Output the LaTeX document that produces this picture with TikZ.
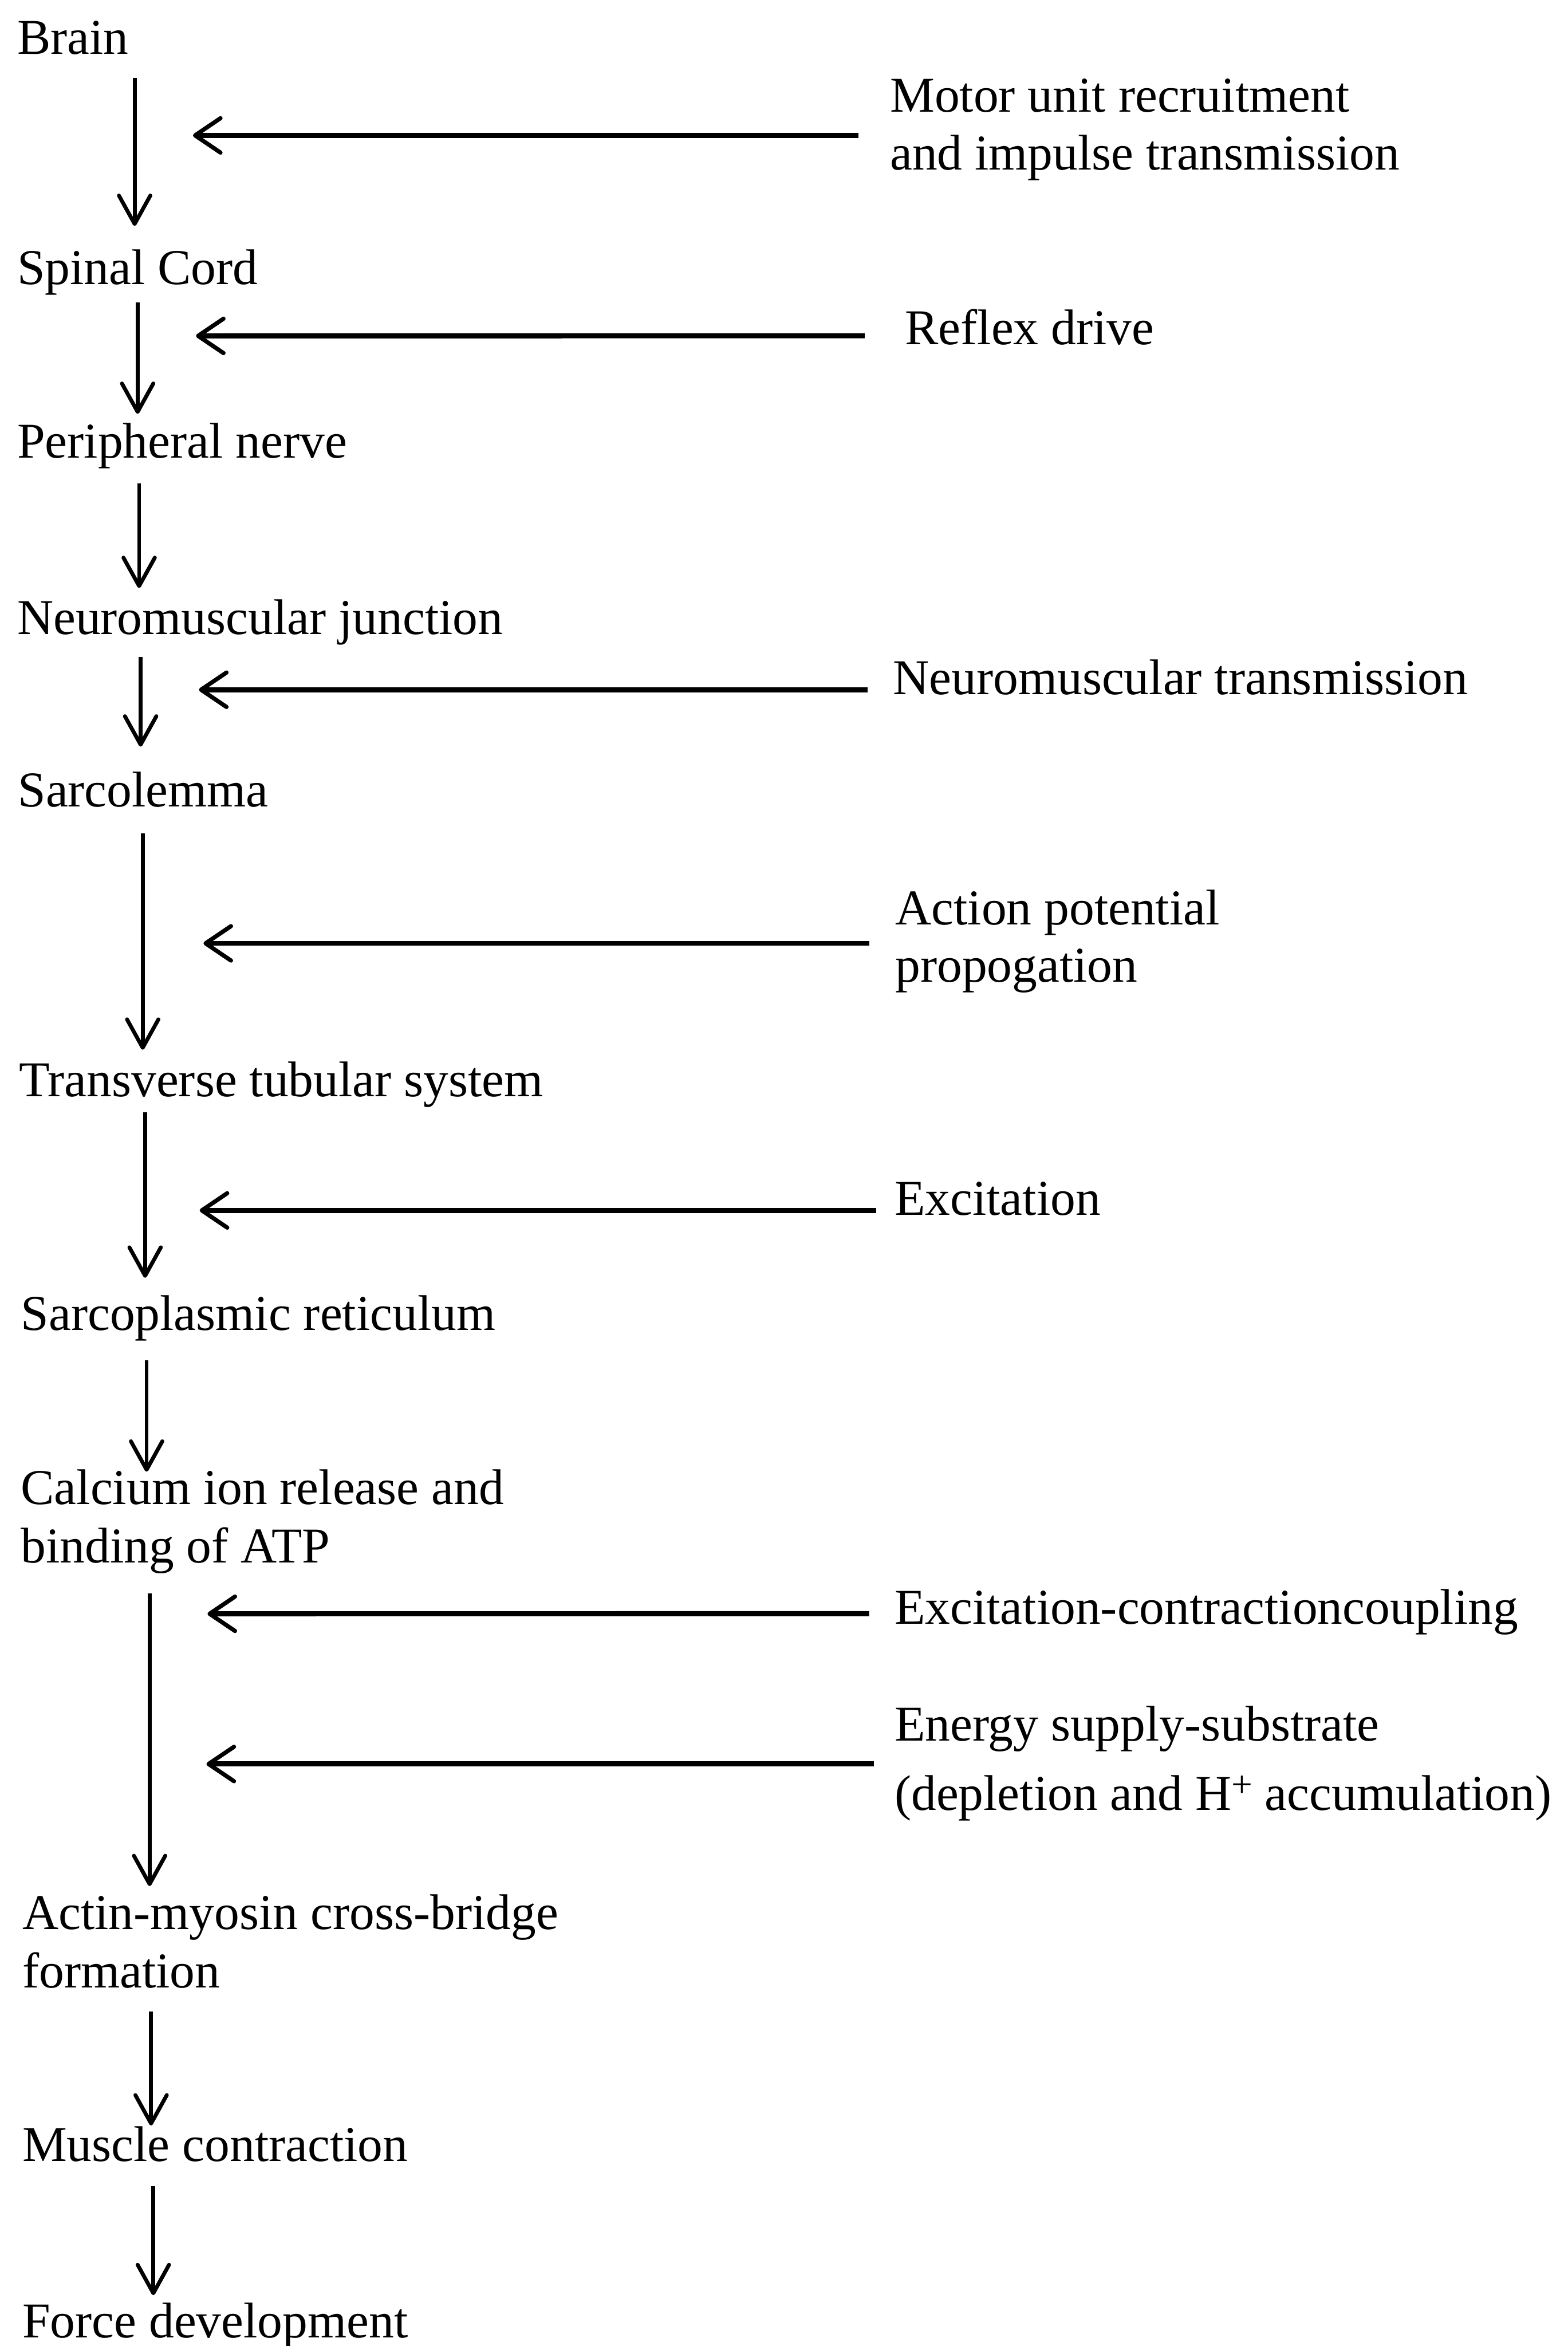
\documentclass[tikz,border=0pt]{standalone}
\usepackage{fontspec}
\setmainfont{Liberation Serif}
\usetikzlibrary{arrows.meta,calc}
\newcommand{\hplus}{\raisebox{9pt}{\fontsize{25}{25}\selectfont +}}
\begin{document}
\begin{tikzpicture}[x=1pt,y=-1pt,
  lbl/.style={anchor=base west,inner sep=0pt,outer sep=0pt,font=\fontsize{33.5}{38.5}\selectfont},
  varrow/.style={line width=2.6pt,-{Straight Barb[length=19pt,width=21pt,line width=2.6pt,round]}},
  harrow/.style={line width=3.4pt,-{Straight Barb[length=17pt,width=23pt,line width=2.8pt,round]}}]
\useasboundingbox (0,0) rectangle (1048,1568);
% left chain
\node[lbl] (brain)   at (11.5,36)    {Brain};
\node[lbl] (spinal)  at (11.5,190)   {Spinal Cord};
\node[lbl] (periph)  at (11.5,306)   {Peripheral nerve};
\node[lbl] (nmj)     at (11.5,424)   {Neuromuscular junction};
\node[lbl] (sarcol)  at (12,539)     {Sarcolemma};
\node[lbl] (ttub)    at (12.7,733)   {Transverse tubular system};
\node[lbl] (sr)      at (14,889)     {Sarcoplasmic reticulum};
\node[lbl] (calcium) at (14,1005.6)  {\begin{tabular}[t]{@{}l@{}}Calcium ion release and\\[0.5pt] binding of ATP\end{tabular}};
\node[lbl] (actin)   at (15,1289.6)  {\begin{tabular}[t]{@{}l@{}}Actin-myosin cross-bridge\\[0.5pt] formation\end{tabular}};
\node[lbl] (muscle)  at (15,1444.6)  {Muscle contraction};
\node[lbl] (force)   at (15,1562.5)  {Force development};
% right labels
\node[lbl] (motor)   at (595,75)     {\begin{tabular}[t]{@{}l@{}}Motor unit recruitment\\ and impulse transmission\end{tabular}};
\node[lbl] (reflex)  at (605,230.4)  {Reflex drive};
\node[lbl] (nmt)     at (597,464)    {Neuromuscular transmission};
\node[lbl] (ap)      at (598.5,618)  {\begin{tabular}[t]{@{}l@{}}Action potential\\ propogation\end{tabular}};
\node[lbl] (exc)     at (598,812)    {Excitation};
\node[lbl] (ecc)     at (598,1085.5) {Excitation-contractioncoupling};
\node[lbl] (energy)  at (598,1163.5) {\begin{tabular}[t]{@{}l@{}}Energy supply-substrate\\[8pt] (depletion and H\hplus\ accumulation)\end{tabular}};
% free ends of the horizontal arrows
\coordinate (t1) at (129,90.5);
\coordinate (t2) at (131,224.5);
\coordinate (t3) at (133,461);
\coordinate (t4) at (136,630.5);
\coordinate (t5) at (133.5,809);
\coordinate (t6) at (138.7,1078.6);
\coordinate (t7) at (138,1179);
% vertical arrows
\draw[varrow] ($(brain.base west)+(78.5,16)$)   -- ($(spinal.base west)+(78.5,-39)$);
\draw[varrow] ($(spinal.base west)+(80.5,12)$)  -- ($(periph.base west)+(80.5,-29.4)$);
\draw[varrow] ($(periph.base west)+(81.5,17)$)  -- ($(nmj.base west)+(81.5,-31)$);
\draw[varrow] ($(nmj.base west)+(82.5,15)$)     -- ($(sarcol.base west)+(82,-40)$);
\draw[varrow] ($(sarcol.base west)+(83.4,18)$)  -- ($(ttub.base west)+(82.7,-31.4)$);
\draw[varrow] ($(ttub.base west)+(84.3,10.5)$)  -- ($(sr.base west)+(83,-35)$);
\draw[varrow] ($(sr.base west)+(84,20)$)        -- ($(calcium.base west)+(84,-22)$);
\draw[varrow] ($(calcium.base west)+(86,59.4)$) -- ($(actin.base west)+(85,-29)$);
\draw[varrow] ($(actin.base west)+(86,55)$)     -- ($(muscle.base west)+(86,-24)$);
\draw[varrow] ($(muscle.base west)+(87.5,16.4)$) -- ($(force.base west)+(87.5,-28.5)$);
% horizontal arrows
\draw[harrow] ($(motor.base west)+(-21,15.5)$)    -- (t1);
\draw[harrow] ($(reflex.base west)+(-27,-6)$)     -- (t2);
\draw[harrow] ($(nmt.base west)+(-17,-3)$)        -- (t3);
\draw[harrow] ($(ap.base west)+(-17.5,12.5)$)     -- (t4);
\draw[harrow] ($(exc.base west)+(-12.4,-3)$)      -- (t5);
\draw[harrow] ($(ecc.base west)+(-17,-7)$)        -- (t6);
\draw[harrow] ($(energy.base west)+(-14,15.5)$)   -- (t7);
\end{tikzpicture}
\end{document}
